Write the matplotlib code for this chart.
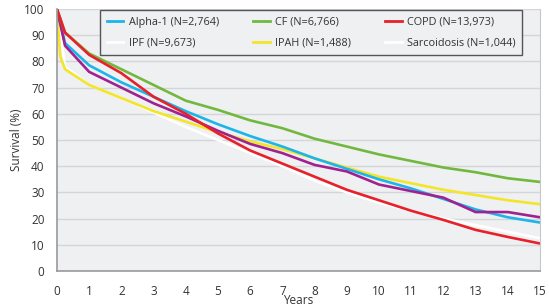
import numpy as np
import matplotlib
matplotlib.use("Agg")
import matplotlib.pyplot as plt
from matplotlib.lines import Line2D

plt.rcParams['font.family'] = ['Open Sans', 'DejaVu Sans']

# Survival (%)
years = [0, 0.25, 1, 2, 3, 4, 5, 6, 7, 8, 9, 10, 11, 12, 13, 14, 15]
alpha1 = [100, 87, 78.5, 72, 66.5, 61, 56, 51.5, 47.5, 43, 39, 35, 31.5, 27.5, 23.5, 20.5, 18.5]
cf = [100, 91, 83, 77, 71, 65, 61.5, 57.5, 54.5, 50.5, 47.5, 44.5, 42, 39.5, 37.7, 35.4, 34]
copd = [100, 91, 82.5, 75.5, 66.5, 60, 52.5, 46, 41, 36, 31, 27, 23, 19.5, 15.7, 13, 10.5]
ipah_years = [0, 0.1, 0.25, 1, 2, 3, 4, 5, 6, 7, 8, 9, 10, 11, 12, 13, 14, 15]
ipah = [100, 82, 77, 71, 66, 61, 57, 53, 49.5, 46.5, 43, 39.5, 36, 33.5, 31, 29, 27, 25.5]
purple = [100, 86, 76, 70, 64, 59, 53.5, 48.5, 45, 40.5, 38, 33, 30.5, 28, 22.5, 22.5, 20.5]
white = [100, 78, 71, 66, 60.5, 55, 50, 45, 40, 34.5, 30, 26, 23, 20, 17.5, 15, 12.5]

labels = ['Alpha-1 (N=2,764)', 'CF (N=6,766)', 'COPD (N=13,973)',
          'IPF (N=9,673)', 'IPAH (N=1,488)', 'Sarcoidosis (N=1,044)']

c_blue = '#1cb5ea'
c_green = '#72b83e'
c_red = '#e8202a'
c_yellow = '#f2e52a'
c_purple = '#a0218f'

fig = plt.figure(figsize=(5.49, 3.08), dpi=100)
ax = fig.add_axes([0.1038, 0.1201, 0.8798, 0.8507])
ax.set_facecolor('#eff0f2')

lw = 1.9
ax.plot(years, white, color='white', lw=lw)
ax.plot(ipah_years, ipah, color=c_yellow, lw=lw)
ax.plot(years, alpha1, color=c_blue, lw=lw)
ax.plot(years, purple, color=c_purple, lw=lw)
ax.plot(years, cf, color=c_green, lw=lw)
ax.plot(years, copd, color=c_red, lw=lw)

ax.set_xlim(0, 15)
ax.set_ylim(0, 100)
ax.set_xticks(range(0, 16))
ax.set_yticks(range(0, 101, 10))
ax.yaxis.grid(True, color='#d4d5d8', lw=1)
ax.set_axisbelow(True)
ax.tick_params(length=0, labelsize=8.5, colors='#333333')
ax.tick_params(axis='y', pad=9)
ax.tick_params(axis='x', pad=10)
for s in ['left', 'bottom']:
    ax.spines[s].set_color('#9a9a9c')
    ax.spines[s].set_linewidth(1.2)
ax.spines['right'].set_color('#c8c8ca')
ax.spines['top'].set_visible(False)

ax.set_xlabel('Years', fontsize=8.5, color='#333333', labelpad=-2.5)
ax.set_ylabel('Survival (%)', fontsize=8.5, color='#333333', labelpad=1)

handles = [Line2D([], [], color=c, lw=2) for c in
           [c_blue, c_green, c_red, 'white', c_yellow, 'white']]
order = [0, 3, 1, 4, 2, 5]
leg = ax.legend([handles[i] for i in order], [labels[i] for i in order],
                ncol=3, loc='upper left', bbox_to_anchor=(0.09, 0.995, 0.873, 0.0),
                mode='expand', fontsize=7.8, frameon=True, fancybox=False,
                handlelength=1.5, handletextpad=0.5, labelspacing=0.9,
                borderpad=0.6, borderaxespad=0)
leg.get_frame().set_edgecolor('#555555')
leg.get_frame().set_facecolor('#eff0f2')
leg.get_frame().set_linewidth(1)
leg.get_frame().set_alpha(1)
for t in leg.get_texts():
    t.set_color('#333333')

fig.savefig('out.png', dpi=100)
